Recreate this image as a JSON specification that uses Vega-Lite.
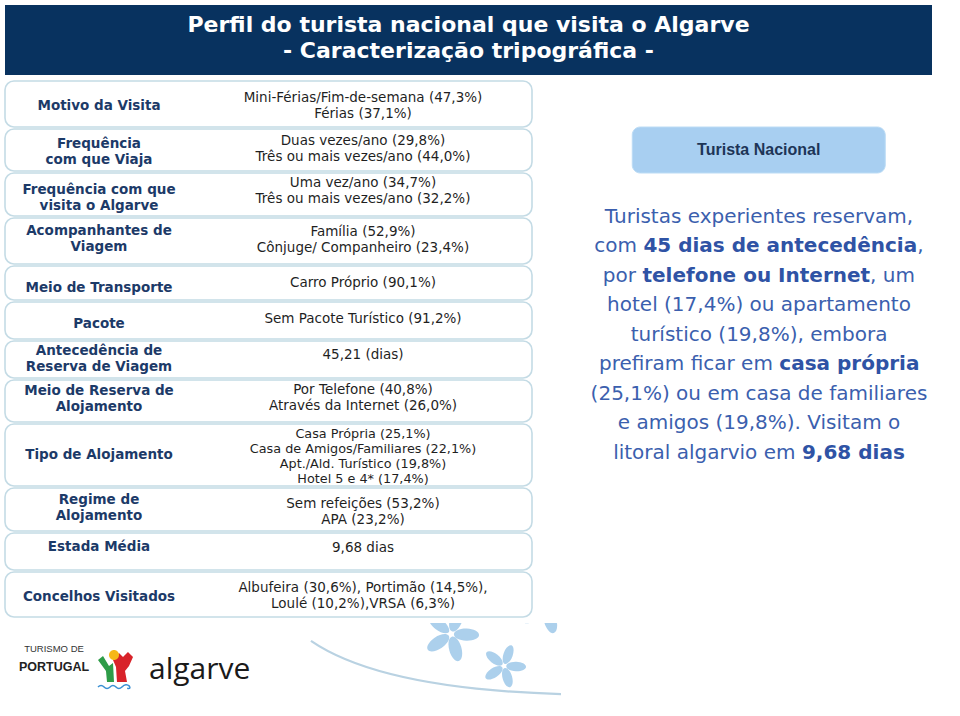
{
  "$schema": "https://vega.github.io/schema/vega-lite/v6.json",
  "background": "white",
  "padding": {"left": 4, "top": 5, "right": 0, "bottom": 0},
  "spacing": 5,
  "config": {
    "view": {"fill": "white", "stroke": "#c4dbe5", "strokeWidth": 1.6, "cornerRadius": 9}
  },
  "datasets": {
    "heading": [{"title": "Perfil do turista nacional que visita o Algarve\n- Caracterização tripográfica -"}],
    "rows": [
      {"order": 1, "topic": "Motivo da Visita", "detail": "Mini-Férias/Fim-de-semana (47,3%)\nFérias (37,1%)"},
      {"order": 2, "topic": "Frequência\ncom que Viaja", "detail": "Duas vezes/ano (29,8%)\nTrês ou mais vezes/ano (44,0%)"},
      {"order": 3, "topic": "Frequência com que\nvisita o Algarve", "detail": "Uma vez/ano (34,7%)\nTrês ou mais vezes/ano (32,2%)"},
      {"order": 4, "topic": "Acompanhantes de\nViagem", "detail": "Família (52,9%)\nCônjuge/ Companheiro (23,4%)"},
      {"order": 5, "topic": "Meio de Transporte", "detail": "Carro Próprio (90,1%)"},
      {"order": 6, "topic": "Pacote", "detail": "Sem Pacote Turístico (91,2%)"},
      {"order": 7, "topic": "Antecedência de\nReserva de Viagem", "detail": "45,21 (dias)"},
      {"order": 8, "topic": "Meio de Reserva de\nAlojamento", "detail": "Por Telefone (40,8%)\nAtravés da Internet (26,0%)"},
      {"order": 9, "topic": "Tipo de Alojamento", "detail": "Casa Própria (25,1%)\nCasa de Amigos/Familiares (22,1%)\nApt./Ald. Turístico (19,8%)\nHotel 5 e 4* (17,4%)"},
      {"order": 10, "topic": "Regime de\nAlojamento", "detail": "Sem refeições (53,2%)\nAPA (23,2%)"},
      {"order": 11, "topic": "Estada Média", "detail": "9,68 dias"},
      {"order": 12, "topic": "Concelhos Visitados", "detail": "Albufeira (30,6%), Portimão (14,5%),\nLoulé (10,2%),VRSA (6,3%)"}
    ],
    "badge": [{"label": "Turista Nacional"}],
    "blurb": [
      {"line": 1, "part": "plain", "text": "Turistas experientes reservam,"},
      {"line": 2, "part": "before", "text": "com"},
      {"line": 2, "part": "bold", "text": "45 dias de antecedência"},
      {"line": 2, "part": "after", "text": ","},
      {"line": 3, "part": "before", "text": "por"},
      {"line": 3, "part": "bold", "text": "telefone ou Internet"},
      {"line": 3, "part": "after", "text": ", um"},
      {"line": 4, "part": "plain", "text": "hotel (17,4%) ou apartamento"},
      {"line": 5, "part": "plain", "text": "turístico (19,8%), embora"},
      {"line": 6, "part": "before", "text": "prefiram ficar em"},
      {"line": 6, "part": "bold", "text": "casa própria"},
      {"line": 7, "part": "plain", "text": "(25,1%) ou em casa de familiares"},
      {"line": 8, "part": "plain", "text": "e amigos (19,8%). Visitam o"},
      {"line": 9, "part": "before", "text": "litoral algarvio em"},
      {"line": 9, "part": "bold", "text": "9,68 dias"}
    ],
    "brand": [{"brand": "TURISMO DE", "country": "PORTUGAL", "region": "algarve"}]
  },
  "vconcat": [
    {
      "width": 927, "height": 70,
      "view": {"fill": "#08325f", "stroke": null, "cornerRadius": 0},
      "data": {"name": "heading"},
      "mark": {"type": "text", "font": "DejaVu Sans", "fontWeight": "bold", "fontSize": 22, "lineHeight": 26, "lineBreak": "\n", "color": "white", "align": "center", "baseline": "middle", "dy": -15},
      "encoding": {"text": {"field": "title"}}
    },
    {
      "spacing": 25,
      "hconcat": [
        {
          "spacing": 0,
          "vconcat": [
            {"height": 46, "width": 527, "data": {"name": "rows"}, "transform": [{"filter": "datum.order == 1"}], "layer": [
              {"mark": {"type": "text", "font": "DejaVu Sans", "fontWeight": "bold", "fontSize": 13.5, "lineHeight": 16, "lineBreak": "\n", "color": "#1c3a68", "align": "center", "baseline": "middle", "dy": 2}, "encoding": {"x": {"datum": "label", "type": "nominal", "scale": {"type": "point", "domain": ["label", "value"], "range": [94, 358], "padding": 0}, "axis": null}, "text": {"field": "topic"}}},
              {"mark": {"type": "text", "font": "DejaVu Sans", "fontSize": 13.5, "lineHeight": 16, "lineBreak": "\n", "color": "#1f1f1f", "align": "center", "baseline": "middle", "dy": -6.5}, "encoding": {"x": {"datum": "value", "type": "nominal", "scale": {"type": "point", "domain": ["label", "value"], "range": [94, 358], "padding": 0}, "axis": null}, "text": {"field": "detail"}}}
            ]},
            {"height": 42, "width": 527, "data": {"name": "rows"}, "transform": [{"filter": "datum.order == 2"}], "layer": [
              {"mark": {"type": "text", "font": "DejaVu Sans", "fontWeight": "bold", "fontSize": 13.5, "lineHeight": 16, "lineBreak": "\n", "color": "#1c3a68", "align": "center", "baseline": "middle", "dy": -6.5}, "encoding": {"x": {"datum": "label", "type": "nominal", "scale": {"type": "point", "domain": ["label", "value"], "range": [94, 358], "padding": 0}, "axis": null}, "text": {"field": "topic"}}},
              {"mark": {"type": "text", "font": "DejaVu Sans", "fontSize": 13.5, "lineHeight": 16, "lineBreak": "\n", "color": "#1f1f1f", "align": "center", "baseline": "middle", "dy": -9.5}, "encoding": {"x": {"datum": "value", "type": "nominal", "scale": {"type": "point", "domain": ["label", "value"], "range": [94, 358], "padding": 0}, "axis": null}, "text": {"field": "detail"}}}
            ]},
            {"height": 43, "width": 527, "data": {"name": "rows"}, "transform": [{"filter": "datum.order == 3"}], "layer": [
              {"mark": {"type": "text", "font": "DejaVu Sans", "fontWeight": "bold", "fontSize": 13.5, "lineHeight": 16, "lineBreak": "\n", "color": "#1c3a68", "align": "center", "baseline": "middle", "dy": -5}, "encoding": {"x": {"datum": "label", "type": "nominal", "scale": {"type": "point", "domain": ["label", "value"], "range": [94, 358], "padding": 0}, "axis": null}, "text": {"field": "topic"}}},
              {"mark": {"type": "text", "font": "DejaVu Sans", "fontSize": 13.5, "lineHeight": 16, "lineBreak": "\n", "color": "#1f1f1f", "align": "center", "baseline": "middle", "dy": -11.5}, "encoding": {"x": {"datum": "value", "type": "nominal", "scale": {"type": "point", "domain": ["label", "value"], "range": [94, 358], "padding": 0}, "axis": null}, "text": {"field": "detail"}}}
            ]},
            {"height": 46, "width": 527, "data": {"name": "rows"}, "transform": [{"filter": "datum.order == 4"}], "layer": [
              {"mark": {"type": "text", "font": "DejaVu Sans", "fontWeight": "bold", "fontSize": 13.5, "lineHeight": 16, "lineBreak": "\n", "color": "#1c3a68", "align": "center", "baseline": "middle", "dy": -10.5}, "encoding": {"x": {"datum": "label", "type": "nominal", "scale": {"type": "point", "domain": ["label", "value"], "range": [94, 358], "padding": 0}, "axis": null}, "text": {"field": "topic"}}},
              {"mark": {"type": "text", "font": "DejaVu Sans", "fontSize": 13.5, "lineHeight": 16, "lineBreak": "\n", "color": "#1f1f1f", "align": "center", "baseline": "middle", "dy": -9}, "encoding": {"x": {"datum": "value", "type": "nominal", "scale": {"type": "point", "domain": ["label", "value"], "range": [94, 358], "padding": 0}, "axis": null}, "text": {"field": "detail"}}}
            ]},
            {"height": 34, "width": 527, "data": {"name": "rows"}, "transform": [{"filter": "datum.order == 5"}], "layer": [
              {"mark": {"type": "text", "font": "DejaVu Sans", "fontWeight": "bold", "fontSize": 13.5, "lineHeight": 16, "lineBreak": "\n", "color": "#1c3a68", "align": "center", "baseline": "middle", "dy": 5}, "encoding": {"x": {"datum": "label", "type": "nominal", "scale": {"type": "point", "domain": ["label", "value"], "range": [94, 358], "padding": 0}, "axis": null}, "text": {"field": "topic"}}},
              {"mark": {"type": "text", "font": "DejaVu Sans", "fontSize": 13.5, "lineHeight": 16, "lineBreak": "\n", "color": "#1f1f1f", "align": "center", "baseline": "middle", "dy": 0}, "encoding": {"x": {"datum": "value", "type": "nominal", "scale": {"type": "point", "domain": ["label", "value"], "range": [94, 358], "padding": 0}, "axis": null}, "text": {"field": "detail"}}}
            ]},
            {"height": 37, "width": 527, "data": {"name": "rows"}, "transform": [{"filter": "datum.order == 6"}], "layer": [
              {"mark": {"type": "text", "font": "DejaVu Sans", "fontWeight": "bold", "fontSize": 13.5, "lineHeight": 16, "lineBreak": "\n", "color": "#1c3a68", "align": "center", "baseline": "middle", "dy": 3.5}, "encoding": {"x": {"datum": "label", "type": "nominal", "scale": {"type": "point", "domain": ["label", "value"], "range": [94, 358], "padding": 0}, "axis": null}, "text": {"field": "topic"}}},
              {"mark": {"type": "text", "font": "DejaVu Sans", "fontSize": 13.5, "lineHeight": 16, "lineBreak": "\n", "color": "#1f1f1f", "align": "center", "baseline": "middle", "dy": -1.5}, "encoding": {"x": {"datum": "value", "type": "nominal", "scale": {"type": "point", "domain": ["label", "value"], "range": [94, 358], "padding": 0}, "axis": null}, "text": {"field": "detail"}}}
            ]},
            {"height": 37, "width": 527, "data": {"name": "rows"}, "transform": [{"filter": "datum.order == 7"}], "layer": [
              {"mark": {"type": "text", "font": "DejaVu Sans", "fontWeight": "bold", "fontSize": 13.5, "lineHeight": 16, "lineBreak": "\n", "color": "#1c3a68", "align": "center", "baseline": "middle", "dy": -8.5}, "encoding": {"x": {"datum": "label", "type": "nominal", "scale": {"type": "point", "domain": ["label", "value"], "range": [94, 358], "padding": 0}, "axis": null}, "text": {"field": "topic"}}},
              {"mark": {"type": "text", "font": "DejaVu Sans", "fontSize": 13.5, "lineHeight": 16, "lineBreak": "\n", "color": "#1f1f1f", "align": "center", "baseline": "middle", "dy": -5}, "encoding": {"x": {"datum": "value", "type": "nominal", "scale": {"type": "point", "domain": ["label", "value"], "range": [94, 358], "padding": 0}, "axis": null}, "text": {"field": "detail"}}}
            ]},
            {"height": 42, "width": 527, "data": {"name": "rows"}, "transform": [{"filter": "datum.order == 8"}], "layer": [
              {"mark": {"type": "text", "font": "DejaVu Sans", "fontWeight": "bold", "fontSize": 13.5, "lineHeight": 16, "lineBreak": "\n", "color": "#1c3a68", "align": "center", "baseline": "middle", "dy": -10.5}, "encoding": {"x": {"datum": "label", "type": "nominal", "scale": {"type": "point", "domain": ["label", "value"], "range": [94, 358], "padding": 0}, "axis": null}, "text": {"field": "topic"}}},
              {"mark": {"type": "text", "font": "DejaVu Sans", "fontSize": 13.5, "lineHeight": 16, "lineBreak": "\n", "color": "#1f1f1f", "align": "center", "baseline": "middle", "dy": -11.5}, "encoding": {"x": {"datum": "value", "type": "nominal", "scale": {"type": "point", "domain": ["label", "value"], "range": [94, 358], "padding": 0}, "axis": null}, "text": {"field": "detail"}}}
            ]},
            {"height": 62, "width": 527, "data": {"name": "rows"}, "transform": [{"filter": "datum.order == 9"}], "layer": [
              {"mark": {"type": "text", "font": "DejaVu Sans", "fontWeight": "bold", "fontSize": 13.5, "lineHeight": 16, "lineBreak": "\n", "color": "#1c3a68", "align": "center", "baseline": "middle", "dy": 0}, "encoding": {"x": {"datum": "label", "type": "nominal", "scale": {"type": "point", "domain": ["label", "value"], "range": [94, 358], "padding": 0}, "axis": null}, "text": {"field": "topic"}}},
              {"mark": {"type": "text", "font": "DejaVu Sans", "fontSize": 12.8, "lineHeight": 15, "lineBreak": "\n", "color": "#1f1f1f", "align": "center", "baseline": "middle", "dy": -21}, "encoding": {"x": {"datum": "value", "type": "nominal", "scale": {"type": "point", "domain": ["label", "value"], "range": [94, 358], "padding": 0}, "axis": null}, "text": {"field": "detail"}}}
            ]},
            {"height": 43, "width": 527, "data": {"name": "rows"}, "transform": [{"filter": "datum.order == 10"}], "layer": [
              {"mark": {"type": "text", "font": "DejaVu Sans", "fontWeight": "bold", "fontSize": 13.5, "lineHeight": 16, "lineBreak": "\n", "color": "#1c3a68", "align": "center", "baseline": "middle", "dy": -9.5}, "encoding": {"x": {"datum": "label", "type": "nominal", "scale": {"type": "point", "domain": ["label", "value"], "range": [94, 358], "padding": 0}, "axis": null}, "text": {"field": "topic"}}},
              {"mark": {"type": "text", "font": "DejaVu Sans", "fontSize": 13.5, "lineHeight": 16, "lineBreak": "\n", "color": "#1f1f1f", "align": "center", "baseline": "middle", "dy": -6}, "encoding": {"x": {"datum": "value", "type": "nominal", "scale": {"type": "point", "domain": ["label", "value"], "range": [94, 358], "padding": 0}, "axis": null}, "text": {"field": "detail"}}}
            ]},
            {"height": 37, "width": 527, "data": {"name": "rows"}, "transform": [{"filter": "datum.order == 11"}], "layer": [
              {"mark": {"type": "text", "font": "DejaVu Sans", "fontWeight": "bold", "fontSize": 13.5, "lineHeight": 16, "lineBreak": "\n", "color": "#1c3a68", "align": "center", "baseline": "middle", "dy": -5}, "encoding": {"x": {"datum": "label", "type": "nominal", "scale": {"type": "point", "domain": ["label", "value"], "range": [94, 358], "padding": 0}, "axis": null}, "text": {"field": "topic"}}},
              {"mark": {"type": "text", "font": "DejaVu Sans", "fontSize": 13.5, "lineHeight": 16, "lineBreak": "\n", "color": "#1f1f1f", "align": "center", "baseline": "middle", "dy": -4}, "encoding": {"x": {"datum": "value", "type": "nominal", "scale": {"type": "point", "domain": ["label", "value"], "range": [94, 358], "padding": 0}, "axis": null}, "text": {"field": "detail"}}}
            ]},
            {"height": 45, "width": 527, "data": {"name": "rows"}, "transform": [{"filter": "datum.order == 12"}], "layer": [
              {"mark": {"type": "text", "font": "DejaVu Sans", "fontWeight": "bold", "fontSize": 13.5, "lineHeight": 16, "lineBreak": "\n", "color": "#1c3a68", "align": "center", "baseline": "middle", "dy": 2.5}, "encoding": {"x": {"datum": "label", "type": "nominal", "scale": {"type": "point", "domain": ["label", "value"], "range": [94, 358], "padding": 0}, "axis": null}, "text": {"field": "topic"}}},
              {"mark": {"type": "text", "font": "DejaVu Sans", "fontSize": 13.5, "lineHeight": 16, "lineBreak": "\n", "color": "#1f1f1f", "align": "center", "baseline": "middle", "dy": -7}, "encoding": {"x": {"datum": "value", "type": "nominal", "scale": {"type": "point", "domain": ["label", "value"], "range": [94, 358], "padding": 0}, "axis": null}, "text": {"field": "detail"}}}
            ]}
          ]
        },
        {
          "spacing": 28,
          "center": true,
          "vconcat": [
            {
              "width": 253, "height": 92,
              "view": {"stroke": null, "fill": null},
              "data": {"name": "badge"},
              "layer": [
                {"mark": {"type": "rect", "color": "#a8cff1", "cornerRadius": 8, "stroke": "#bcdcf5", "strokeWidth": 1}, "encoding": {"y": {"datum": "box", "type": "nominal", "scale": {"type": "band", "domain": ["space", "box"], "paddingInner": 0, "paddingOuter": 0}, "axis": null}}},
                {"mark": {"type": "text", "font": "Liberation Sans", "fontWeight": "bold", "fontSize": 16, "color": "#1d3557", "align": "center", "baseline": "middle"}, "encoding": {"y": {"datum": "box", "type": "nominal", "scale": {"type": "band", "domain": ["space", "box"], "paddingInner": 0, "paddingOuter": 0}, "axis": null}, "text": {"field": "label"}}}
              ]
            },
            {
              "width": 402, "height": 265.5,
              "view": {"stroke": null, "fill": null},
              "data": {"name": "blurb"},
              "encoding": {
                "y": {"field": "line", "type": "ordinal", "scale": {"domain": [1, 2, 3, 4, 5, 6, 7, 8, 9]}, "axis": null},
                "text": {"field": "text"}
              },
              "layer": [
                {"transform": [{"filter": "datum.part == 'plain'"}], "mark": {"type": "text", "font": "DejaVu Sans", "fontSize": 20, "color": "#3b5fae", "align": "center", "baseline": "middle"}},
                {"transform": [{"filter": "datum.line == 2 && datum.part == 'before'"}], "mark": {"type": "text", "font": "DejaVu Sans", "fontSize": 20, "color": "#3b5fae", "align": "right", "baseline": "middle", "dx": -122.1}},
                {"transform": [{"filter": "datum.line == 2 && datum.part == 'bold'"}], "mark": {"type": "text", "font": "DejaVu Sans", "fontWeight": "bold", "fontSize": 20, "color": "#2f53a5", "align": "left", "baseline": "middle", "dx": -115.6}},
                {"transform": [{"filter": "datum.line == 2 && datum.part == 'after'"}], "mark": {"type": "text", "font": "DejaVu Sans", "fontSize": 20, "color": "#3b5fae", "align": "left", "baseline": "middle", "dx": 158.3}},
                {"transform": [{"filter": "datum.line == 3 && datum.part == 'before'"}], "mark": {"type": "text", "font": "DejaVu Sans", "fontSize": 20, "color": "#3b5fae", "align": "right", "baseline": "middle", "dx": -123}},
                {"transform": [{"filter": "datum.line == 3 && datum.part == 'bold'"}], "mark": {"type": "text", "font": "DejaVu Sans", "fontWeight": "bold", "fontSize": 20, "color": "#2f53a5", "align": "left", "baseline": "middle", "dx": -116.6}},
                {"transform": [{"filter": "datum.line == 3 && datum.part == 'after'"}], "mark": {"type": "text", "font": "DejaVu Sans", "fontSize": 20, "color": "#3b5fae", "align": "left", "baseline": "middle", "dx": 111.1}},
                {"transform": [{"filter": "datum.line == 6 && datum.part == 'before'"}], "mark": {"type": "text", "font": "DejaVu Sans", "fontSize": 20, "color": "#3b5fae", "align": "right", "baseline": "middle", "dx": 13.9}},
                {"transform": [{"filter": "datum.line == 6 && datum.part == 'bold'"}], "mark": {"type": "text", "font": "DejaVu Sans", "fontWeight": "bold", "fontSize": 20, "color": "#2f53a5", "align": "left", "baseline": "middle", "dx": 20.3}},
                {"transform": [{"filter": "datum.line == 9 && datum.part == 'before'"}], "mark": {"type": "text", "font": "DejaVu Sans", "fontSize": 20, "color": "#3b5fae", "align": "right", "baseline": "middle", "dx": 36.5}},
                {"transform": [{"filter": "datum.line == 9 && datum.part == 'bold'"}], "mark": {"type": "text", "font": "DejaVu Sans", "fontWeight": "bold", "fontSize": 20, "color": "#2f53a5", "align": "left", "baseline": "middle", "dx": 42.9}}
              ]
            }
          ]
        }
      ]
    },
    {
      "width": 560, "height": 80,
      "view": {"stroke": null, "fill": null},
      "data": {"name": "brand"},
      "layer": [
        {"mark": {"type": "point", "clip": true, "shape": "M1.113,-0.211 A0.084,0.041 -70 0,1 1.171,-0.369 A0.084,0.041 -70 0,1 1.113,-0.211 Z M1.126,-0.192 A0.084,0.041 2 0,1 1.294,-0.186 A0.084,0.041 2 0,1 1.126,-0.192 Z M1.112,-0.175 A0.084,0.041 74 0,1 1.159,-0.013 A0.084,0.041 74 0,1 1.112,-0.175 Z M1.091,-0.183 A0.084,0.041 146 0,1 0.952,-0.088 A0.084,0.041 146 0,1 1.091,-0.183 Z M1.092,-0.205 A0.084,0.041 218 0,1 0.960,-0.308 A0.084,0.041 218 0,1 1.092,-0.205 Z M1.465,0.006 A0.066,0.032 -70 0,1 1.510,-0.118 A0.066,0.032 -70 0,1 1.465,0.006 Z M1.475,0.021 A0.066,0.032 2 0,1 1.607,0.025 A0.066,0.032 2 0,1 1.475,0.021 Z M1.464,0.034 A0.066,0.032 74 0,1 1.501,0.161 A0.066,0.032 74 0,1 1.464,0.034 Z M1.448,0.028 A0.066,0.032 146 0,1 1.338,0.102 A0.066,0.032 146 0,1 1.448,0.028 Z M1.448,0.011 A0.066,0.032 218 0,1 1.344,-0.071 A0.066,0.032 218 0,1 1.448,0.011 Z M1.746,-0.398 A0.084,0.041 -70 0,1 1.804,-0.556 A0.084,0.041 -70 0,1 1.746,-0.398 Z M1.759,-0.379 A0.084,0.041 2 0,1 1.927,-0.373 A0.084,0.041 2 0,1 1.759,-0.379 Z M1.745,-0.362 A0.084,0.041 74 0,1 1.792,-0.200 A0.084,0.041 74 0,1 1.745,-0.362 Z M1.724,-0.370 A0.084,0.041 146 0,1 1.585,-0.275 A0.084,0.041 146 0,1 1.724,-0.370 Z M1.725,-0.392 A0.084,0.041 218 0,1 1.593,-0.495 A0.084,0.041 218 0,1 1.725,-0.392 Z", "size": 90000, "filled": true, "color": "#9ec8e9", "opacity": 0.85, "strokeWidth": 0}, "encoding": {}},
        {"mark": {"type": "point", "clip": true, "shape": "M0.173,-0.147 Q0.64,0.173 1.84,0.207", "size": 90000, "filled": false, "stroke": "#b9d2e2", "strokeWidth": 2.2, "opacity": 1}, "encoding": {}},
        {"mark": {"type": "text", "font": "Liberation Sans", "fontSize": 9.5, "color": "#333333", "align": "center", "baseline": "middle", "dy": -14}, "encoding": {"x": {"datum": "word", "type": "nominal", "scale": {"type": "point", "domain": ["word", "icon", "name"], "range": [49, 169], "padding": 0}, "axis": null}, "text": {"field": "brand"}}},
        {"mark": {"type": "text", "font": "Liberation Sans", "fontWeight": "bold", "fontSize": 12.5, "color": "#222222", "align": "center", "baseline": "middle", "dy": 4}, "encoding": {"x": {"datum": "word", "type": "nominal", "scale": {"type": "point", "domain": ["word", "icon", "name"], "range": [49, 169], "padding": 0}, "axis": null}, "text": {"field": "country"}}},
        {"mark": {"type": "point", "shape": "M-0.727,-0.136 L-0.5,-0.318 L-0.227,0.136 L-0.045,0 L0,0.864 L-0.318,0.864 L-0.364,0.364 Z", "size": 1936, "filled": true, "color": "#2e9c48", "opacity": 1, "strokeWidth": 0}, "encoding": {"x": {"datum": "icon", "type": "nominal", "scale": {"type": "point", "domain": ["word", "icon", "name"], "range": [49, 169], "padding": 0}, "axis": null}}},
        {"mark": {"type": "point", "shape": "M-0.045,-0.136 L0.227,-0.455 L0.409,-0.273 L0.636,-0.5 L0.864,-0.273 L0.682,0.136 L0.5,0.364 L0.591,0.864 L0.136,0.864 L0.091,0.182 Z", "size": 1936, "filled": true, "color": "#d8232a", "opacity": 1, "strokeWidth": 0}, "encoding": {"x": {"datum": "icon", "type": "nominal", "scale": {"type": "point", "domain": ["word", "icon", "name"], "range": [49, 169], "padding": 0}, "axis": null}}},
        {"mark": {"type": "point", "shape": "M-0.227,-0.364 A0.227,0.227 0 1,1 0.227,-0.364 A0.227,0.227 0 1,1 -0.227,-0.364 Z", "size": 1936, "filled": true, "color": "#f6b817", "opacity": 1, "strokeWidth": 0}, "encoding": {"x": {"datum": "icon", "type": "nominal", "scale": {"type": "point", "domain": ["word", "icon", "name"], "range": [49, 169], "padding": 0}, "axis": null}}},
        {"mark": {"type": "point", "shape": "M-0.727,1.09 Q-0.59,0.95 -0.45,1.09 Q-0.32,1.23 -0.18,1.09 Q-0.05,0.95 0.09,1.09 Q0.22,1.23 0.36,1.09 Q0.55,0.9 0.7,1.05 Q0.78,1.2 0.6,1.15", "size": 1936, "filled": false, "stroke": "#3a8fd3", "strokeWidth": 1.5, "opacity": 1}, "encoding": {"x": {"datum": "icon", "type": "nominal", "scale": {"type": "point", "domain": ["word", "icon", "name"], "range": [49, 169], "padding": 0}, "axis": null}}},
        {"mark": {"type": "text", "font": "Open Sans", "fontSize": 30, "color": "#1a1a1a", "align": "left", "baseline": "alphabetic", "dx": -25, "dy": 16}, "encoding": {"x": {"datum": "name", "type": "nominal", "scale": {"type": "point", "domain": ["word", "icon", "name"], "range": [49, 169], "padding": 0}, "axis": null}, "text": {"field": "region"}}}
      ]
    }
  ]
}
